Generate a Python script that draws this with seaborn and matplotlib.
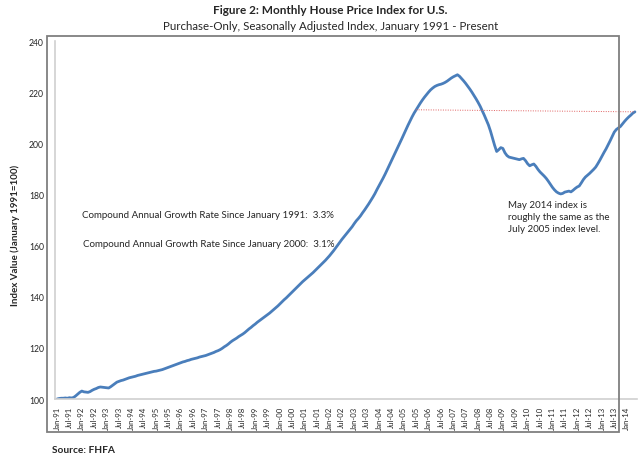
import numpy as np
import pandas as pd
import seaborn as sns
import matplotlib.pyplot as plt
from matplotlib.patches import Rectangle

# Monthly index values, Jan 1991 - May 2014
hpi_by_year = {
    1991: [100.0, 100.2, 100.3, 100.3, 100.4, 100.3, 100.5, 100.4, 100.6, 101.2, 101.9, 102.6],
    1992: [103.1, 102.8, 102.7, 102.6, 102.9, 103.4, 103.8, 104.1, 104.5, 104.7, 104.6, 104.5],
    1993: [104.4, 104.3, 104.8, 105.4, 106.0, 106.6, 106.9, 107.2, 107.4, 107.7, 108.0, 108.3],
    1994: [108.5, 108.7, 108.9, 109.2, 109.4, 109.6, 109.8, 110.0, 110.2, 110.4, 110.6, 110.8],
    1995: [110.9, 111.1, 111.3, 111.5, 111.8, 112.1, 112.4, 112.7, 113.0, 113.3, 113.6, 113.9],
    1996: [114.2, 114.5, 114.7, 115.0, 115.2, 115.5, 115.7, 115.9, 116.1, 116.4, 116.6, 116.8],
    1997: [117.0, 117.3, 117.6, 117.9, 118.2, 118.6, 118.9, 119.3, 119.8, 120.4, 120.9, 121.5],
    1998: [122.2, 122.8, 123.3, 123.8, 124.4, 124.9, 125.4, 126.0, 126.7, 127.4, 128.0, 128.7],
    1999: [129.3, 130.0, 130.6, 131.2, 131.8, 132.4, 133.0, 133.6, 134.3, 135.0, 135.7, 136.4],
    2000: [137.2, 138.0, 138.8, 139.5, 140.3, 141.1, 141.9, 142.7, 143.5, 144.3, 145.1, 145.9],
    2001: [146.6, 147.3, 148.0, 148.7, 149.4, 150.2, 151.0, 151.8, 152.6, 153.4, 154.2, 155.1],
    2002: [156.0, 157.0, 158.0, 159.1, 160.2, 161.3, 162.4, 163.4, 164.4, 165.4, 166.4, 167.4],
    2003: [168.6, 169.7, 170.6, 171.6, 172.8, 173.9, 175.1, 176.3, 177.6, 178.9, 180.3, 181.9],
    2004: [183.4, 184.9, 186.4, 188.0, 189.7, 191.4, 193.1, 194.8, 196.5, 198.2, 199.9, 201.7],
    2005: [203.5, 205.3, 207.0, 208.7, 210.3, 211.8, 213.1, 214.4, 215.7, 216.9, 218.0, 219.0],
    2006: [220.0, 220.9, 221.6, 222.2, 222.6, 222.9, 223.1, 223.4, 223.8, 224.3, 224.9, 225.5],
    2007: [226.0, 226.4, 226.8, 226.2, 225.3, 224.4, 223.4, 222.3, 221.2, 220.0, 218.7, 217.4],
    2008: [216.0, 214.5, 212.8, 211.0, 209.1, 207.2, 204.8, 202.0, 199.2, 196.8, 197.5, 198.3],
    2009: [198.0, 196.3, 195.2, 194.6, 194.4, 194.2, 194.0, 193.8, 193.6, 193.9, 194.1, 193.2],
    2010: [192.0, 191.2, 191.6, 191.9, 191.0, 189.8, 188.8, 188.0, 187.2, 186.3, 185.2, 184.0],
    2011: [182.8, 181.8, 181.0, 180.5, 180.2, 180.4, 180.9, 181.1, 181.3, 181.0, 181.6, 182.3],
    2012: [182.9, 183.3, 184.5, 185.8, 186.8, 187.5, 188.2, 189.0, 189.8, 190.7, 192.0, 193.4],
    2013: [194.9, 196.4, 197.8, 199.4, 201.0, 202.7, 204.4, 205.4, 206.0, 206.6, 207.6, 208.6],
    2014: [209.5, 210.3, 211.0, 211.8, 212.3],
}

values = [v for yr in sorted(hpi_by_year) for v in hpi_by_year[yr]]
df = pd.DataFrame({"month": np.arange(len(values)), "hpi": values})

# tick labels every six months
tick_labels = []
for yr in range(1991, 2015):
    tick_labels.append("Jan-%02d" % (yr % 100))
    if yr < 2014:
        tick_labels.append("Jul-%02d" % (yr % 100))
tick_pos = np.arange(len(tick_labels)) * 6

jul05 = (2005 - 1991) * 12 + 6
may14 = len(values) - 1

sns.set_style("white")
plt.rcParams['font.family'] = ['Lato', 'DejaVu Sans']

fig = plt.figure(figsize=(6.4, 4.6), dpi=100)
ax = fig.add_axes([55 / 640, 60 / 460, 582 / 640, 358 / 460])

sns.lineplot(data=df, x="month", y="hpi", ax=ax, color="#4a7ebb", linewidth=2.0)

# dotted reference line: July 2005 level vs May 2014
ax.plot([jul05, may14], [values[jul05], values[may14]], color="#e06060",
        linestyle=(0, (1, 1.5)), linewidth=0.7)

ax.set_xlim(-1, 281)
ax.set_ylim(100, 240)
ax.set_yticks(range(100, 241, 20))
ax.set_xticks(tick_pos)
ax.set_xticklabels(tick_labels, rotation=90, fontsize=5.6)
ax.tick_params(axis='y', labelsize=6.2, length=0, pad=8)
ax.tick_params(axis='x', length=3, width=0.6, color="#c0c0c0", pad=2, direction='out')
ax.set_xlabel("")
ax.set_ylabel("")
for side in ["top", "right"]:
    ax.spines[side].set_visible(False)
for side in ["left", "bottom"]:
    ax.spines[side].set_color("#d0d0d0")
    ax.spines[side].set_linewidth(1.2)

ax.text(12, 172.3, "Compound Annual Growth Rate Since January 1991:  3.3%",
        fontsize=7, va="center", ha="left")
ax.text(12.5, 161, "Compound Annual Growth Rate Since January 2000:  3.1%",
        fontsize=7, va="center", ha="left")
ax.text(218.5, 178, "May 2014 index is\nroughly the same as the\nJuly 2005 index level.",
        fontsize=7, va="top", ha="left", linespacing=1.45)

# outer chart frame
fig.patches.append(Rectangle((47 / 640, 27 / 460), 572 / 640, 396 / 460,
                             transform=fig.transFigure, fill=False,
                             edgecolor="#7f7f7f", linewidth=1.3))

fig.text(0.516, 1 - 10 / 460, "Figure 2: Monthly House Price Index for U.S.",
         ha="center", va="center", fontsize=8.5, fontweight="bold")
fig.text(0.516, 1 - 26 / 460, "Purchase-Only, Seasonally Adjusted Index, January 1991 - Present",
         ha="center", va="center", fontsize=8.3)
fig.text(15 / 640, 1 - 235 / 460, "Index Value (January 1991=100)", rotation=90,
         ha="center", va="center", fontsize=7, fontweight="bold")
fig.text(52 / 640, 1 - 451 / 460, "Source: FHFA", ha="left", va="center",
         fontsize=7.3, fontweight="bold")

fig.savefig("out.png", dpi=100)
